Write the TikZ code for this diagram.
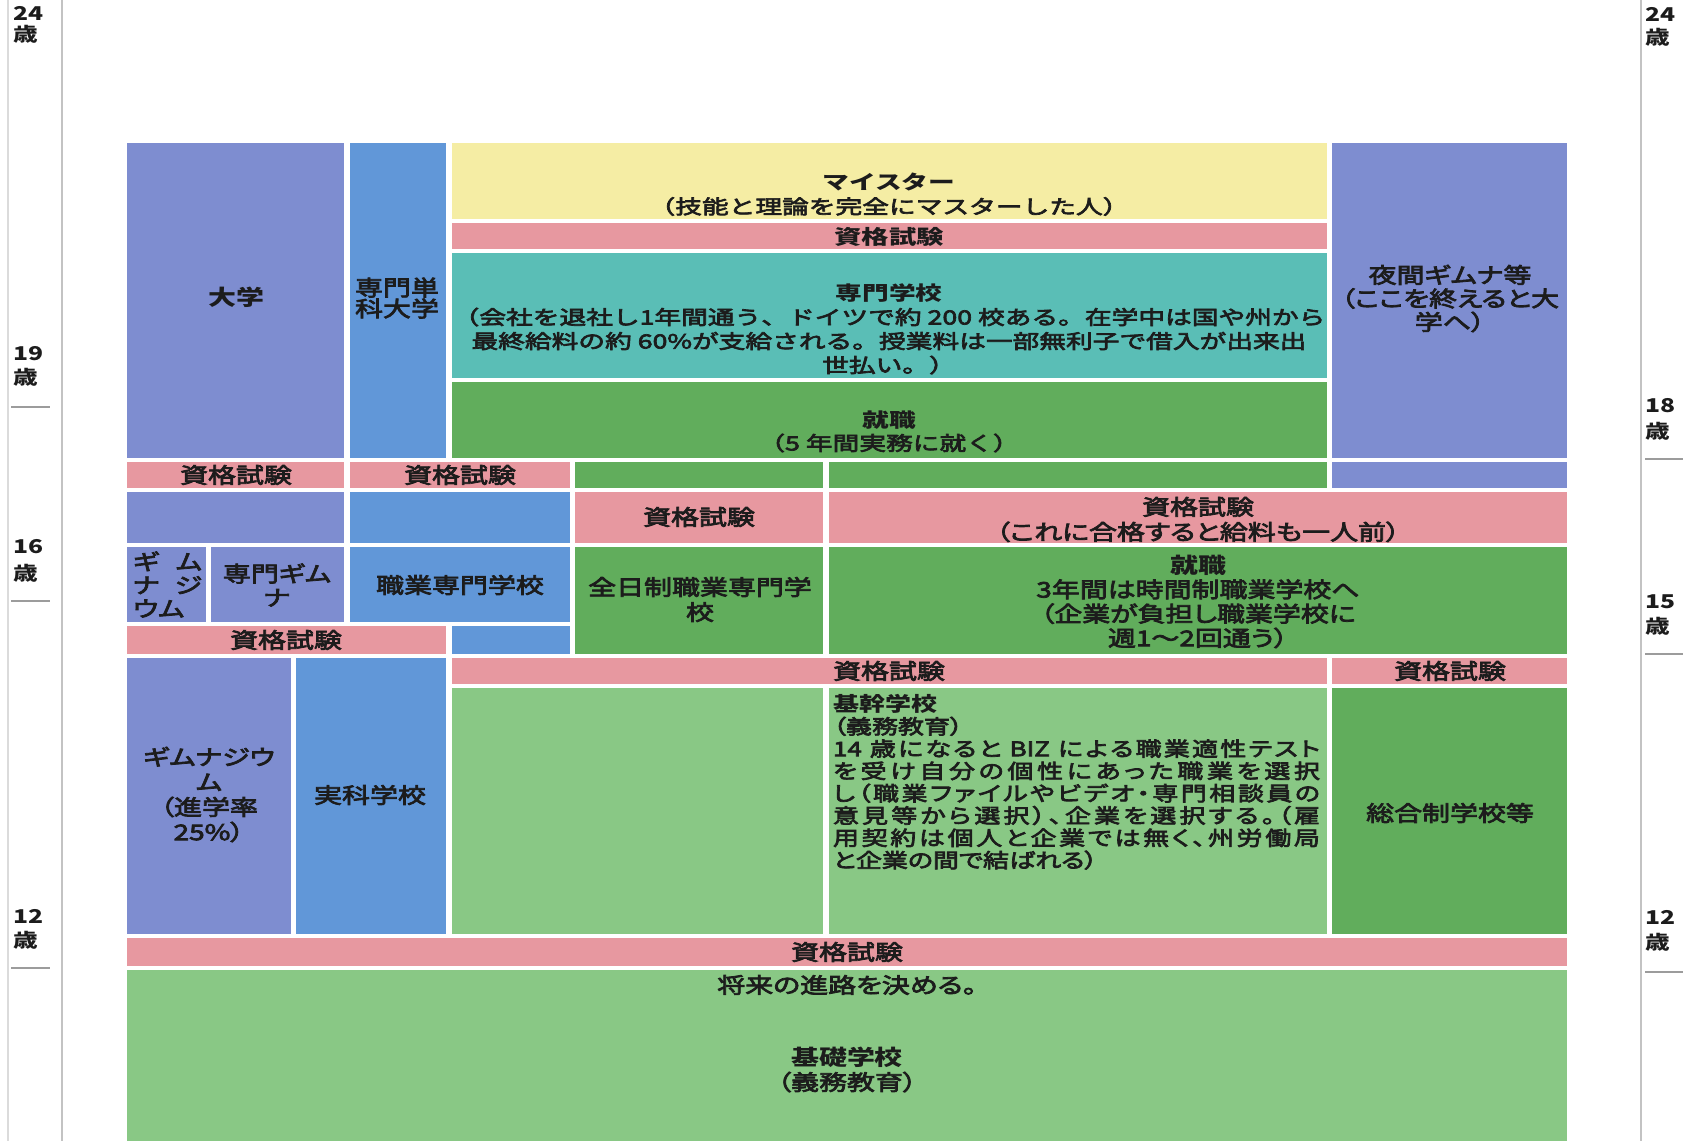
\documentclass[tikz,border=0pt]{standalone}
\usepackage{fontspec}
\setmainfont{Noto Sans CJK JP}
\newfontfamily\jpw[FakeStretch=1.3,RawFeature=+palt,FakeBold=3.5]{Noto Sans CJK JP}
\newfontfamily\jpwB[FakeStretch=1.3,RawFeature=+palt]{Noto Sans CJK JP}
\newfontfamily\jpn[FakeStretch=1.37,FakeBold=3.5]{Noto Sans CJK JP}
\newfontfamily\jpnB[FakeStretch=1.37]{Noto Sans CJK JP}
\newcommand\hb[1]{{\jpwB\bfseries #1}}
\newcommand\hn[1]{{\jpnB\bfseries #1}}
\newcommand\fs[2]{\fontsize{#1}{#2}\selectfont}
\def\sprend{}
\def\sprglue{\hskip 0pt plus 1fil minus 2pt\relax}
\def\sprloop#1{\ifx\sprend#1\else#1\sprglue\expandafter\sprloop\fi}
\newcommand\spr[1]{\hbox to 487pt{\sprloop#1\sprend\unskip}}
\definecolor{lav}{RGB}{126,141,208}
\definecolor{mbl}{RGB}{97,151,216}
\definecolor{yel}{RGB}{245,237,164}
\definecolor{pnk}{RGB}{231,152,160}
\definecolor{tea}{RGB}{90,190,182}
\definecolor{grn}{RGB}{97,173,92}
\definecolor{lgr}{RGB}{137,200,133}
\definecolor{axc}{RGB}{195,195,195}
\definecolor{ink}{RGB}{28,28,28}
\newcommand\rb[5]{\fill[#5] (#1,#2) rectangle (#3,#4);}
\tikzset{
  t/.style={inner sep=0pt, align=center, text=ink, font=\jpw\fs{21.5}{24}},
  tn/.style={inner sep=0pt, align=center, text=ink, font=\jpn\fs{19.5}{24}},
  age/.style={inner sep=0pt, anchor=west, text=ink, font=\jpwB\bfseries\fs{19}{20}},
  axis/.style={draw=axc, line width=1.3pt},
  tick/.style={draw=axc!80!black, line width=1.3pt}
}
\begin{document}
\begin{tikzpicture}[x=1pt,y=-1pt]
\useasboundingbox (0,0) rectangle (1689,1141);
\fill[white] (0,0) rectangle (1689,1141);
% axes
\draw[axis, draw=axc!60] (8,0) -- (8,1141);
\draw[axis] (62,0) -- (62,1141);
\draw[axis] (1641,0) -- (1641,1141);
\draw[tick] (11,407) -- (50,407);
\draw[tick] (11,601) -- (50,601);
\draw[tick] (11,968) -- (50,968);
\draw[tick] (1645,459) -- (1683,459);
\draw[tick] (1645,654) -- (1683,654);
\draw[tick] (1645,972) -- (1683,972);
% age labels
\node[age] (l24a) at (13,13) {24};  \node[age] (l24b) at (13,34) {歳};
\node[age] (l19a) at (13,354) {19}; \node[age] (l19b) at (13,377) {歳};
\node[age] (l16a) at (13,547) {16}; \node[age] (l16b) at (13,573) {歳};
\node[age] (l12a) at (13,916) {12}; \node[age] (l12b) at (13,940) {歳};
\node[age] (r24a) at (1645,14) {24};  \node[age] (r24b) at (1645,37) {歳};
\node[age] (r18a) at (1645,406) {18}; \node[age] (r18b) at (1645,431) {歳};
\node[age] (r15a) at (1645,602) {15}; \node[age] (r15b) at (1645,626) {歳};
\node[age] (r12a) at (1645,917) {12}; \node[age] (r12b) at (1645,942) {歳};
% row 1
\rb{127}{143}{344}{458}{lav}
\rb{350}{143}{446}{458}{mbl}
\rb{452}{143}{1327}{219}{yel}
\rb{452}{223}{1327}{249}{pnk}
\rb{452}{253}{1327}{378}{tea}
\rb{452}{382}{1327}{458}{grn}
\rb{1332}{143}{1567}{458}{lav}
% row 2
\rb{127}{462}{344}{488}{pnk}
\rb{350}{462}{570}{488}{pnk}
\rb{575}{462}{823}{488}{grn}
\rb{829}{462}{1327}{488}{grn}
\rb{1332}{462}{1567}{488}{lav}
% row 3
\rb{127}{492}{344}{543}{lav}
\rb{350}{492}{570}{543}{mbl}
\rb{575}{492}{823}{543}{pnk}
\rb{829}{492}{1567}{543}{pnk}
% row 4
\rb{127}{547}{206}{622}{lav}
\rb{211}{547}{344}{622}{lav}
\rb{350}{547}{570}{622}{mbl}
\rb{575}{547}{823}{654}{grn}
\rb{829}{547}{1567}{654}{grn}
% row 5
\rb{127}{626}{446}{654}{pnk}
\rb{452}{626}{570}{654}{mbl}
% row 6
\rb{127}{658}{291}{934}{lav}
\rb{296}{658}{446}{934}{mbl}
\rb{452}{658}{1327}{684}{pnk}
\rb{1332}{658}{1567}{684}{pnk}
% row 7
\rb{452}{688}{823}{934}{lgr}
\rb{829}{688}{1327}{934}{lgr}
\rb{1332}{688}{1567}{934}{grn}
% row 8, 9
\rb{127}{938}{1567}{966}{pnk}
\rb{127}{970}{1567}{1141}{lgr}
% texts
\node[t] (daigaku) at (236,297) {\hb{大学}};
\node[t, font=\jpw\fs{21.5}{21}] (tanka) at (397,298) {専門単\\科大学};
\node[tn] (meister) at (889,194.5) {\hn{マイスター}\\（技能と理論を完全にマスターした人）};
\node[tn, font=\jpnB\bfseries\fs{20}{24}] (sk1) at (889,237) {資格試験};
\node[tn] (senmon) at (889,329) {\hn{専門学校}\\（会社を退社し1年間通う、ドイツで約 200 校ある。在学中は国や州から\\最終給料の約 60\%が支給される。授業料は一部無利子で借入が出来出\\世払い。）};
\node[tn, font=\jpn\fs{19.5}{23}] (shushoku1) at (889,431.5) {\hn{就職}\\（5 年間実務に就く）};
\node[t, font=\jpw\fs{21.5}{23.5}] (yakan) at (1450,298.5) {夜間ギムナ等\\（ここを終えると大\\学へ）};
\node[t] (sk2) at (236,475) {資格試験};
\node[t] (sk3) at (460,475) {資格試験};
\node[t] (sk4) at (699,517) {資格試験};
\node[t, font=\jpw\fs{21.5}{25}] (sk5) at (1198,519.5) {資格試験\\（これに合格すると給料も一人前）};
\node[t, align=left, font=\jpw\fs{21.5}{23.5}] (gym1) at (167.5,584.5) {\hbox to 69pt{ギ\hfill ム}\\\hbox to 69pt{ナ\hfill ジ}\\\hbox to 69pt{ウム\hfill}};
\node[t] (sgym) at (277,585) {専門ギム\\ナ};
\node[t] (shokusen) at (460,585) {職業専門学校};
\node[t, font=\jpw\fs{21.5}{25}] (zennichi) at (700,599.5) {全日制職業専門学\\校};
\node[t, font=\jpw\fs{21.5}{24.3}] (shushoku2) at (1198,601.5) {\hb{就職}\\3年間は時間制職業学校へ\\（企業が負担し職業学校に\\週1～2回通う）};
\node[t] (sk6) at (286,640) {資格試験};
\node[t] (sk7) at (889,671) {資格試験};
\node[t] (sk8) at (1450,671) {資格試験};
\node[t, font=\jpw\fs{21.5}{25}] (gym2) at (209,794.5) {ギムナジウ\\ム\\（進学率\\25\%）};
\node[t] (jikka) at (370,795) {実科学校};
\node[t, align=left, font=\jpw\fs{20}{22.3}] (kikan) at (1076.5,782) {\hb{基幹学校}\\（義務教育）\\\spr{{14\ }歳になると{\ BIZ\ }による職業適性テスト}\\\spr{を受け自分の個性にあった職業を選択}\\\spr{し（職業ファイルやビデオ・専門相談員の}\\\spr{意見等から選択）、企業を選択する。（雇}\\\spr{用契約は個人と企業では無く、州労働局}\\と企業の間で結ばれる）};
\node[t] (sogo) at (1450,813) {総合制学校等};
\node[t] (sk9) at (847,952) {資格試験};
\node[t] (shorai) at (847,985) {将来の進路を決める。};
\node[t, font=\jpw\fs{21.5}{25}] (kiso) at (847,1069.5) {\hb{基礎学校}\\（義務教育）};
\end{tikzpicture}
\end{document}
